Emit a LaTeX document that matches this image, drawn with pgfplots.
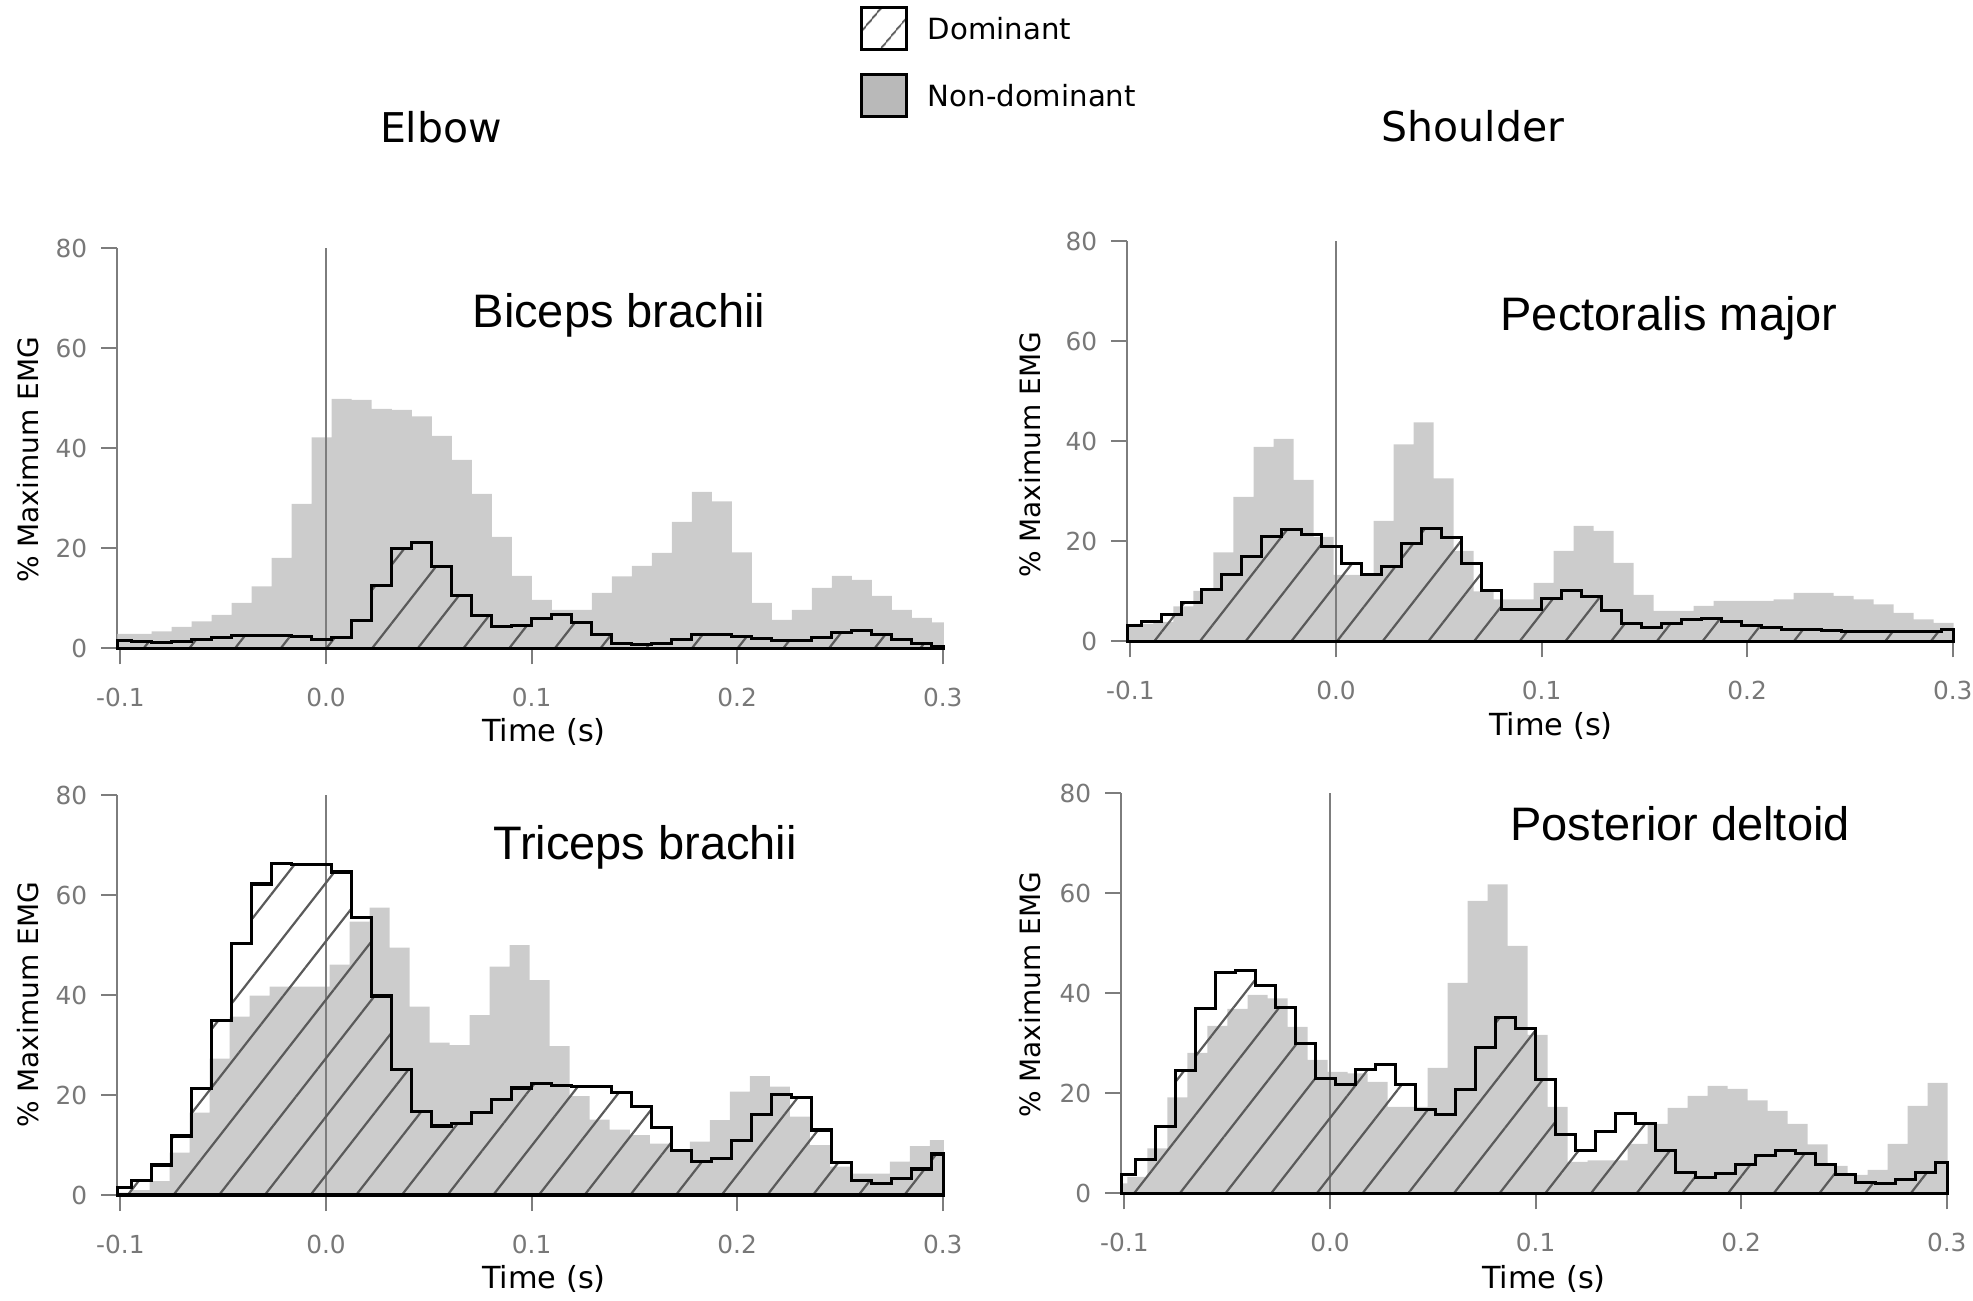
\documentclass[border=0pt]{standalone}
\usepackage{pgfplots}
\pgfplotsset{compat=1.18}
\usepackage{pgfplotstable}
\usetikzlibrary{patterns.meta}
\usepackage{fontspec}
\setmainfont{DejaVu Sans}
\newfontfamily\libsans{Liberation Sans}
\definecolor{ndgray}{RGB}{204,204,204}
\definecolor{hatchgray}{RGB}{90,90,90}
\definecolor{axisgray}{RGB}{125,125,125}
\definecolor{tickgray}{RGB}{120,120,120}
\definecolor{leggray}{RGB}{185,185,185}

% Biceps brachii
\pgfplotstableread{
v
1.5
1.3
1.1
1.3
1.8
2.2
2.5
2.6
2.6
2.3
1.8
2.2
5.5
12.5
19.9
21.1
16.3
10.5
6.5
4.3
4.5
6.0
6.8
5.1
2.7
1.0
0.7
1.0
1.8
2.7
2.7
2.3
1.9
1.6
1.6
2.1
3.1
3.5
2.7
1.7
0.9
0.4
0.4
}\Done
\pgfplotstableread{
v
2.9
2.9
3.4
4.3
5.4
6.7
9.1
12.4
18.1
28.9
42.2
49.9
49.7
47.9
47.7
46.4
42.5
37.7
30.9
22.3
14.5
9.7
7.7
7.7
11.1
14.4
16.5
19.1
25.3
31.3
29.4
19.2
9.1
5.7
7.7
12.1
14.5
13.7
10.5
7.7
6.1
5.2
5.2
}\Gone
% Pectoralis major
\pgfplotstableread{
v
3.1
3.9
5.4
7.8
10.3
13.3
17.0
21.0
22.3
21.3
18.9
15.6
13.3
14.9
19.5
22.5
20.7
15.5
10.1
6.4
6.3
8.5
10.2
9.0
6.1
3.6
2.7
3.5
4.4
4.6
3.9
3.2
2.7
2.4
2.3
2.1
2.0
2.0
2.0
2.0
2.0
2.4
2.4
}\Dtwo
\pgfplotstableread{
v
3.0
3.5
3.9
7.0
10.1
17.8
28.9
38.9
40.5
32.3
20.9
13.3
13.3
24.1
39.4
43.8
32.6
18.1
10.0
8.4
8.4
11.7
18.1
23.1
22.1
15.7
9.3
6.1
6.1
7.1
8.1
8.1
8.1
8.4
9.7
9.7
9.1
8.4
7.4
5.7
4.4
3.7
3.7
}\Gtwo
% Triceps brachii
\pgfplotstableread{
v
1.5
2.9
6.0
11.8
21.3
34.9
50.3
62.2
66.3
66.1
66.1
64.6
55.5
39.8
25.1
16.7
13.8
14.3
16.5
19.1
21.4
22.3
21.9
21.7
21.7
20.5
17.7
13.5
8.9
6.7
7.3
10.9
16.1
20.1
19.5
13.0
6.5
2.9
2.3
3.3
5.2
8.2
8.2
}\Dthree
\pgfplotstableread{
v
0.5
1.0
2.8
8.5
16.5
27.3
35.7
39.9
41.7
41.7
41.7
46.1
54.7
57.5
49.5
37.7
30.5
30.0
36.0
45.7
50.0
43.0
29.8
19.8
15.1
13.1
12.0
10.3
9.0
10.7
15.0
20.7
23.8
21.7
15.7
10.0
5.7
4.3
4.3
6.7
9.8
11.0
11.0
}\Gthree
% Posterior deltoid
\pgfplotstableread{
v
3.8
6.7
13.3
24.5
37.0
44.1
44.5
41.5
37.2
29.9
23.0
21.8
24.8
25.7
21.7
16.8
15.7
20.8
29.2
35.2
33.0
22.7
11.7
8.5
12.3
16.0
14.0
8.5
4.1
3.2
4.0
5.8
7.5
8.5
8.0
5.8
3.7
2.1
1.9
2.7
4.2
6.1
6.1
}\Dfour
\pgfplotstableread{
v
2.0
3.3
9.0
19.2
28.1
33.5
36.9
39.7
39.0
33.3
26.7
24.3
24.0
22.3
17.3
17.3
25.1
42.1
58.5
61.8
49.5
31.7
17.3
6.3
6.6
6.6
9.9
13.9
17.1
19.5
21.5
20.9
18.6
16.5
13.9
9.8
5.5
3.7
4.7
9.9
17.5
22.1
22.1
}\Gfour

\pgfplotsset{emg/.style={
  scale only axis, width=206.625pt, height=100pt, anchor=south west,
  xmin=-0.1015, xmax=0.3005, ymin=0, ymax=80,
  axis x line*=bottom, axis y line*=left,
  x axis line style={-, black, line width=0.75pt},
  y axis line style={-, axisgray, line width=0.5pt},
  xtick={-0.1,0,0.1,0.2,0.3}, xticklabels={-0.1,0.0,0.1,0.2,0.3},
  ytick={0,20,40,60,80}, yticklabels={0,20,40,60,80},
  tick align=outside, major tick length=4pt,
  tick style={axisgray, line width=0.5pt},
  tick label style={font=\fontsize{6.2}{7}\selectfont, text=tickgray},
  xticklabel style={yshift=-2.5pt},
  clip=false,
}}

\newcommand\grayplot[2]{\addplot[const plot, fill=ndgray, draw=none]
  table[x expr={max(-0.1015,min(0.3005,#2-0.0945+0.00973*(\coordindex-1)))}, y=v]{#1} \closedcycle;}
\newcommand\domplot[1]{\addplot[const plot, draw=black, line width=0.8pt,
  pattern={Lines[angle=52,distance=9pt,line width=0.55pt]}, pattern color=hatchgray]
  table[x expr={max(-0.1015,min(0.3005,-0.0945+0.00973*(\coordindex-1)))}, y=v]{#1} \closedcycle;}
\newcommand\zeroline{\draw[axisgray, line width=0.5pt] (axis cs:0,0) -- (axis cs:0,80);}

\begin{document}
\begin{tikzpicture}
\useasboundingbox (0,0) rectangle (493.25pt,-325pt);

\begin{axis}[emg, at={(29.325pt,-162.075pt)}]
\grayplot{\Gone}{0}
\zeroline
\domplot{\Done}
\end{axis}

\begin{axis}[emg, at={(281.825pt,-160.325pt)}]
\grayplot{\Gtwo}{-0.004}
\zeroline
\domplot{\Dtwo}
\end{axis}

\begin{axis}[emg, at={(29.325pt,-298.75pt)}]
\grayplot{\Gthree}{-0.001}
\zeroline
\domplot{\Dthree}
\end{axis}

\begin{axis}[emg, at={(280.325pt,-298.325pt)}]
\grayplot{\Gfour}{-0.004}
\zeroline
\domplot{\Dfour}
\end{axis}

\begin{scope}[x=0.25pt, y=-0.25pt]
% titles
\node[anchor=base, inner sep=0, font=\fontsize{10.25}{12}\selectfont] at (441,142) {Elbow};
\node[anchor=base, inner sep=0, font=\fontsize{10.25}{12}\selectfont] at (1473,141) {Shoulder};
% muscle names
\node[anchor=base, inner sep=0, font=\libsans\fontsize{11.75}{14}\selectfont] at (619,327) {Biceps brachii};
\node[anchor=base, inner sep=0, font=\libsans\fontsize{11.75}{14}\selectfont] at (1669,330) {Pectoralis major};
\node[anchor=base, inner sep=0, font=\libsans\fontsize{11.75}{14}\selectfont] at (645,859) {Triceps brachii};
\node[anchor=base, inner sep=0, font=\libsans\fontsize{11.75}{14}\selectfont] at (1680,840) {Posterior deltoid};
% x labels
\node[anchor=base, inner sep=0, font=\fontsize{7.6}{9}\selectfont] at (544,741.7) {Time (s)};
\node[anchor=base, inner sep=0, font=\fontsize{7.6}{9}\selectfont] at (1551,735) {Time (s)};
\node[anchor=base, inner sep=0, font=\fontsize{7.6}{9}\selectfont] at (544,1288.4) {Time (s)};
\node[anchor=base, inner sep=0, font=\fontsize{7.6}{9}\selectfont] at (1544,1288) {Time (s)};
% y labels
\node[rotate=90, inner sep=0, font=\fontsize{7}{8}\selectfont] at (28,460) {\% Maximum EMG};
\node[rotate=90, inner sep=0, font=\fontsize{7}{8}\selectfont] at (1030,455) {\% Maximum EMG};
\node[rotate=90, inner sep=0, font=\fontsize{7}{8}\selectfont] at (28,1005) {\% Maximum EMG};
\node[rotate=90, inner sep=0, font=\fontsize{7}{8}\selectfont] at (1030,995) {\% Maximum EMG};
% legend
\draw[black, line width=0.75pt, pattern={Lines[angle=50,distance=6.5pt,line width=0.5pt]}, pattern color=hatchgray] (861,7) rectangle (906,49);
\draw[black, line width=0.75pt, fill=leggray] (861,74) rectangle (906,116);
\node[anchor=base west, inner sep=0, font=\fontsize{7.3}{9}\selectfont] at (927,39.5) {Dominant};
\node[anchor=base west, inner sep=0, font=\fontsize{7.3}{9}\selectfont] at (927,106.5) {Non-dominant};
\end{scope}
\end{tikzpicture}
\end{document}
